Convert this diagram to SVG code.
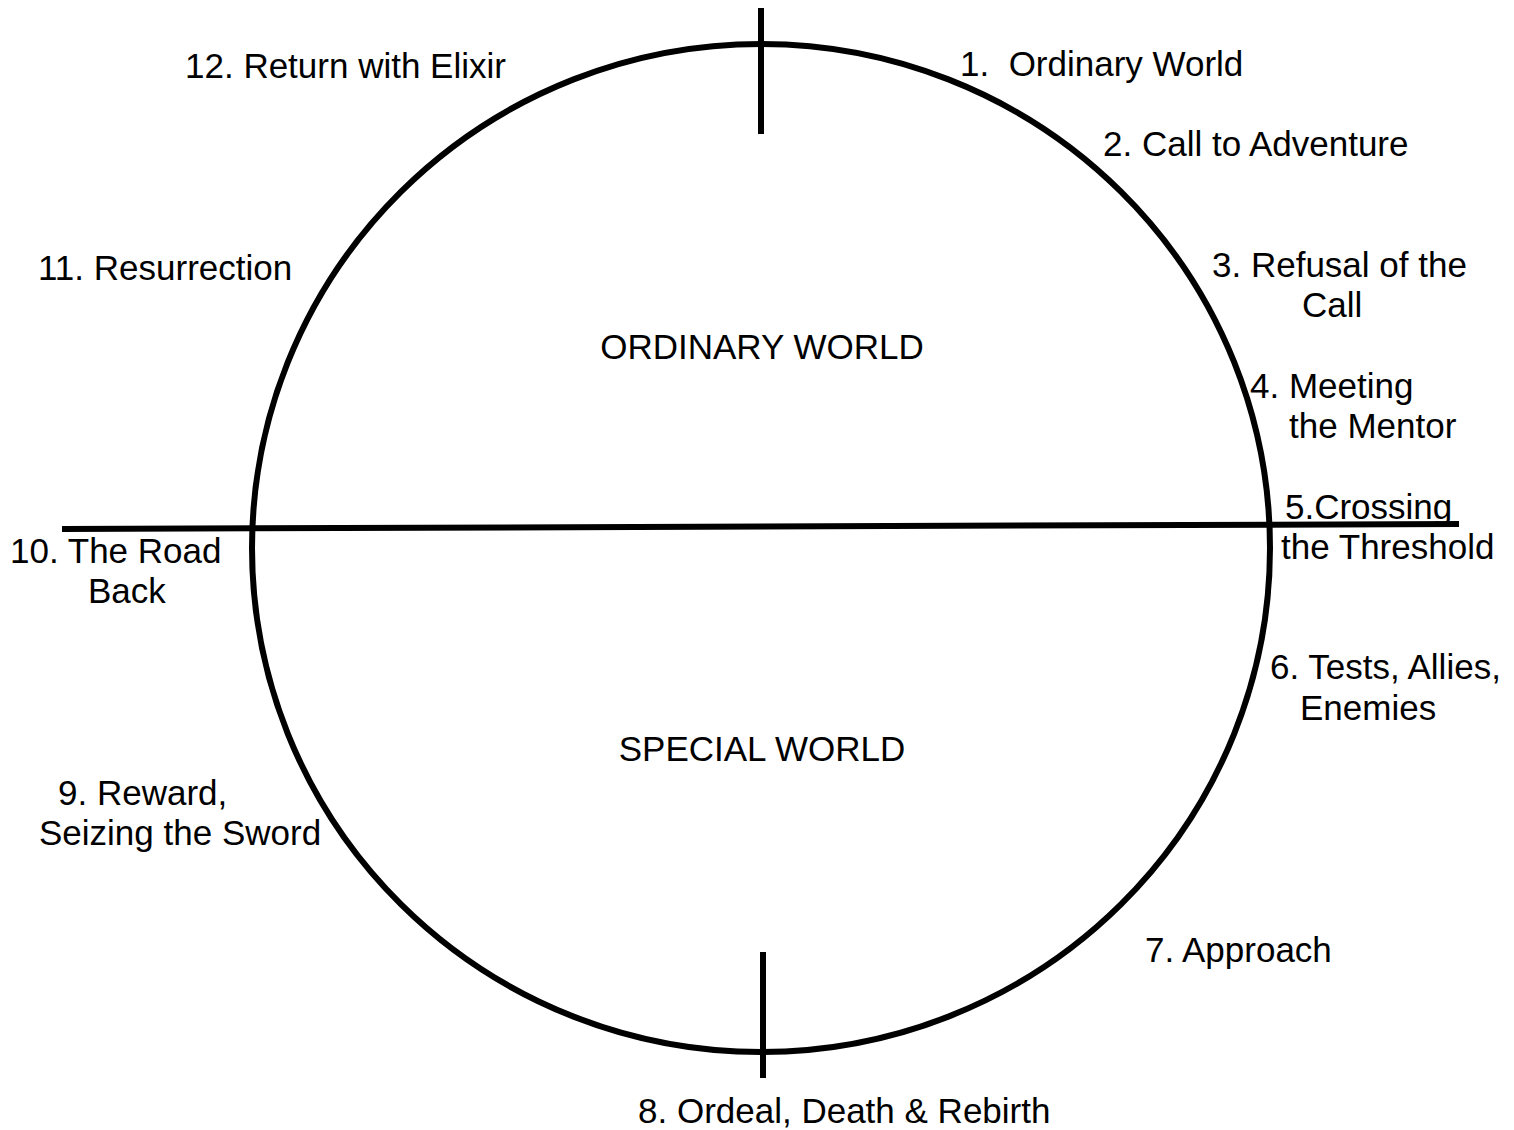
<svg xmlns="http://www.w3.org/2000/svg" width="1514" height="1130" viewBox="0 0 1514 1130">
<style>
.t{font-family:"Liberation Sans",Arial,sans-serif;font-size:35px;fill:#000}
.s{fill:none;stroke:#000;stroke-width:6}
</style>
<rect width="1514" height="1130" fill="#fff"/>
<g id="wheel">
<ellipse class="s" cx="761" cy="548" rx="509" ry="504"/>
</g>
<g id="connectors">
<line class="s" x1="62" y1="529" x2="1459" y2="524"/>
<line class="s" x1="761" y1="8" x2="761" y2="134"/>
<line class="s" x1="763" y1="952" x2="763" y2="1078"/>
</g>
<g id="worlds">
<text class="t" x="762" y="359" text-anchor="middle">ORDINARY WORLD</text>
<text class="t" x="762" y="761" text-anchor="middle">SPECIAL WORLD</text>
</g>
<g id="stage1"><text class="t" x="960" y="76" xml:space="preserve">1.  Ordinary World</text></g>
<g id="stage2"><text class="t" x="1103" y="156">2. Call to Adventure</text></g>
<g id="stage3"><text class="t" x="1212" y="277">3. Refusal of the</text><text class="t" x="1302" y="317">Call</text></g>
<g id="stage4"><text class="t" x="1250" y="398">4. Meeting</text><text class="t" x="1289" y="438">the Mentor</text></g>
<g id="stage5"><text class="t" x="1285" y="519">5.Crossing</text><text class="t" x="1281" y="559">the Threshold</text></g>
<g id="stage6"><text class="t" x="1270" y="679">6. Tests, Allies,</text><text class="t" x="1300" y="720">Enemies</text></g>
<g id="stage7"><text class="t" x="1145" y="962">7. Approach</text></g>
<g id="stage8"><text class="t" x="638" y="1123">8. Ordeal, Death &amp; Rebirth</text></g>
<g id="stage9"><text class="t" x="58" y="805">9. Reward,</text><text class="t" x="39" y="845">Seizing the Sword</text></g>
<g id="stage10"><text class="t" x="10" y="563">10. The Road</text><text class="t" x="88" y="603">Back</text></g>
<g id="stage11"><text class="t" x="38" y="280">11. Resurrection</text></g>
<g id="stage12"><text class="t" x="185" y="78">12. Return with Elixir</text></g>
</svg>
